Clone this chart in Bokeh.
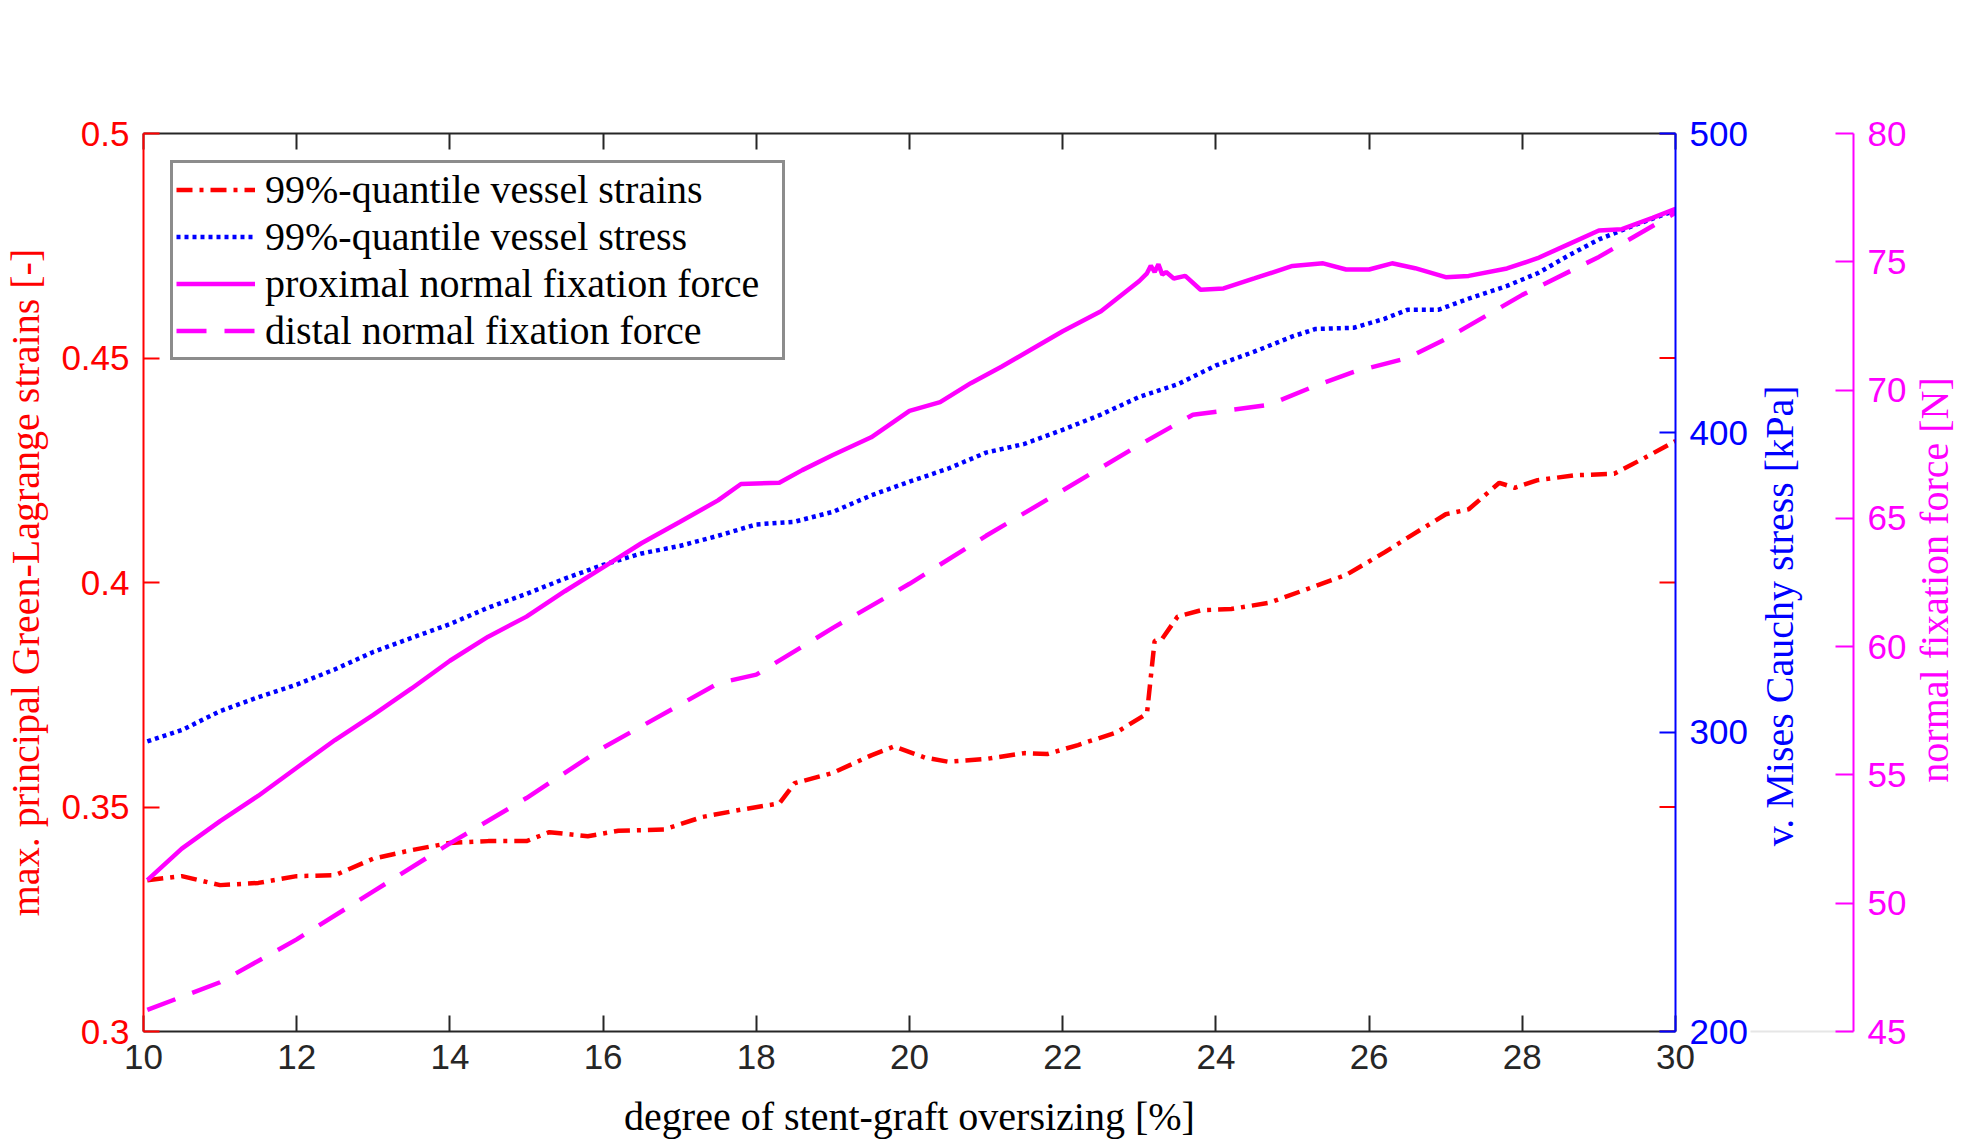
import math
from bokeh.plotting import figure
from bokeh.layouts import row
from bokeh.models import Range1d, LinearAxis, FixedTicker, Legend, LegendItem, Label
from bokeh.embed import file_html
from bokeh.resources import INLINE

# ---------------- data ----------------
strain_x = [10.05, 10.5, 11.0, 11.5, 12.0, 12.5, 13.0, 13.5, 14.0, 14.5,
            15.0, 15.3, 15.8, 16.2, 16.8, 17.3, 17.8, 18.3, 18.5, 19.0,
            19.5, 19.8, 20.2, 20.5, 21.0, 21.5, 21.8, 22.2, 22.7, 23.1,
            23.2, 23.3, 23.5, 23.8, 24.2, 24.7, 25.2, 25.7, 26.2, 26.6,
            27.0, 27.3, 27.7, 27.9, 28.2, 28.7, 29.2, 29.6, 30.0]
strain_y = [0.3337, 0.3346, 0.3326, 0.3331, 0.3346, 0.3348, 0.3385, 0.3404, 0.3420, 0.3424,
            0.3424, 0.3444, 0.3435, 0.3447, 0.3450, 0.3478, 0.3494, 0.3508, 0.3553, 0.3576,
            0.3615, 0.3635, 0.3610, 0.3601, 0.3607, 0.3620, 0.3618, 0.3638, 0.3666, 0.3708,
            0.3870, 0.3875, 0.3924, 0.3938, 0.3941, 0.3955, 0.3986, 0.4017, 0.4067, 0.4110,
            0.4152, 0.4163, 0.4222, 0.4211, 0.4228, 0.4239, 0.4242, 0.4278, 0.4315]

stress_x = [10.05, 10.5, 11.0, 11.5, 12.0, 12.5, 13.0, 13.5, 14.0, 14.5,
            15.0, 15.5, 16.0, 16.5, 17.0, 17.5, 18.0, 18.5, 19.0, 19.5,
            20.0, 20.5, 21.0, 21.5, 22.0, 22.5, 23.0, 23.5, 24.0, 24.5,
            25.0, 25.3, 25.8, 26.2, 26.5, 26.9, 27.3, 27.8, 28.2, 28.6,
            29.0, 29.5, 30.0]
stress_y = [296.9, 300.7, 307.0, 311.7, 315.9, 321.0, 326.8, 331.5, 336.1, 341.6,
            346.2, 351.3, 355.9, 359.7, 362.2, 365.6, 369.4, 370.3, 373.6, 379.1,
            383.7, 388.0, 393.4, 396.3, 401.0, 406.1, 412.0, 416.2, 422.5, 427.1,
            432.2, 434.7, 435.1, 438.1, 441.1, 441.1, 444.8, 449.1, 453.3, 459.2,
            464.6, 469.7, 474.3]

prox_x = [10.05, 10.5, 11.0, 11.5, 12.0, 12.5, 13.0, 13.5, 14.0, 14.5,
          15.0, 15.5, 16.0, 16.5, 17.0, 17.5, 17.8, 18.3, 18.6, 19.0,
          19.5, 20.0, 20.4, 20.8, 21.2, 21.6, 22.0, 22.5, 23.0, 23.1,
          23.15, 23.2, 23.25, 23.3, 23.35, 23.45, 23.6, 23.8, 24.1, 24.5,
          25.0, 25.4, 25.7, 26.0, 26.3, 26.6, 27.0, 27.3, 27.8, 28.2,
          28.6, 29.0, 29.3, 29.7, 30.0]
prox_y = [50.90, 52.13, 53.20, 54.19, 55.28, 56.36, 57.34, 58.37, 59.45, 60.39,
          61.17, 62.16, 63.09, 64.03, 64.86, 65.70, 66.34, 66.39, 66.88, 67.47,
          68.16, 69.19, 69.53, 70.27, 70.91, 71.60, 72.29, 73.07, 74.25, 74.55,
          74.85, 74.60, 74.90, 74.50, 74.60, 74.35, 74.45, 73.91, 73.96, 74.35,
          74.84, 74.94, 74.70, 74.70, 74.94, 74.75, 74.40, 74.45, 74.74, 75.14,
          75.68, 76.22, 76.27, 76.71, 77.06]

dist_x = [10.05, 11.0, 12.0, 13.0, 14.0, 15.0, 16.0, 17.0, 17.5, 18.0,
          19.0, 20.0, 21.0, 22.0, 23.0, 23.7, 24.2, 24.7, 25.3, 25.8,
          26.5, 27.0, 28.0, 29.0, 30.0]
dist_y = [45.84, 46.92, 48.59, 50.46, 52.33, 54.10, 56.06, 57.73, 58.57, 58.91,
          60.73, 62.45, 64.32, 66.09, 67.86, 69.04, 69.23, 69.43, 70.17, 70.71,
          71.25, 71.99, 73.71, 75.19, 76.91]

x_ticks = [10, 12, 14, 16, 18, 20, 22, 24, 26, 28, 30]
strain_ticks = [0.3, 0.35, 0.4, 0.45, 0.5]
strain_tick_labels = ["0.3", "0.35", "0.4", "0.45", "0.5"]
stress_ticks = [200, 300, 400, 500]
force_ticks = [45, 50, 55, 60, 65, 70, 75, 80]

series_labels = ["99%-quantile vessel strains", "99%-quantile vessel stress",
                 "proximal normal fixation force", "distal normal fixation force"]
x_title = "degree of stent-graft oversizing [%]"
strain_title = "max. principal Green-Lagrange strains [-]"
stress_title = "v. Mises Cauchy stress [kPa]"
force_title = "normal fixation force [N]"

# ---------------- styling ----------------
RED, BLUE, MAG, DARK = "#FF0000", "#0000FF", "#FF00FF", "#262626"
TICK_FONT, TITLE_FONT = "Liberation Sans", "Liberation Serif"
TICK_SIZE, TITLE_SIZE = "35px", "40px"

H = 1146
W_MAIN, W_SIDE, W_TITLE = 1750, 160, 68
TOP, BOTTOM = 133, 115
FORCE_MIN, FORCE_MAX = 45, 80

p = figure(width=W_MAIN, height=H,
           x_range=Range1d(10, 30), y_range=Range1d(0.3, 0.5),
           output_backend="svg", toolbar_location=None,
           min_border_left=141, min_border_right=74,
           min_border_top=TOP, min_border_bottom=BOTTOM)
p.grid.visible = False
p.outline_line_color = None
p.background_fill_color = "white"
p.border_fill_color = "white"
p.extra_y_ranges = {"stress": Range1d(200, 500),
                    "force": Range1d(FORCE_MIN, FORCE_MAX)}


def style_axis(ax, color, label_color, ticks, tick_len=16):
    ax.ticker = FixedTicker(ticks=ticks)
    ax.axis_line_color = color
    ax.axis_line_width = 2
    ax.major_tick_line_color = color
    ax.major_tick_line_width = 2
    ax.major_tick_in = tick_len
    ax.major_tick_out = 0
    ax.minor_tick_line_color = None
    ax.major_label_text_color = label_color
    ax.major_label_text_font = TICK_FONT
    ax.major_label_text_font_size = TICK_SIZE
    ax.axis_label_text_font = TITLE_FONT
    ax.axis_label_text_font_size = TITLE_SIZE
    ax.axis_label_text_font_style = "normal"


# bottom x axis
xa = p.xaxis[0]
style_axis(xa, DARK, DARK, x_ticks)
xa.axis_label = x_title
xa.axis_label_text_color = "#000000"
xa.major_label_standoff = 13
xa.axis_label_standoff = 22

# left strain axis
ya = p.yaxis[0]
style_axis(ya, RED, RED, strain_ticks)
ya.major_label_overrides = dict(zip(strain_ticks, strain_tick_labels))
ya.axis_label = strain_title
ya.axis_label_text_color = RED
ya.major_label_standoff = 14
ya.axis_label_standoff = 10

# top axis (ticks only)
top = LinearAxis()
style_axis(top, DARK, DARK, x_ticks)
top.major_label_text_alpha = 0
top.major_label_text_font_size = "1px"
p.add_layout(top, "above")

# right stress axis (ticks + labels)
sa = LinearAxis(y_range_name="stress")
style_axis(sa, BLUE, BLUE, stress_ticks)
sa.major_label_standoff = 14
p.add_layout(sa, "right")

# mirrored strain ticks on the right frame edge
p.scatter(x=[p.x_range.end] * len(strain_ticks), y=strain_ticks, marker="dash",
          size=32, line_color=RED, line_width=2)

# ---------------- series ----------------
r_strain = p.line(strain_x, strain_y, line_color=RED, line_width=4.5,
                  line_dash="16 7 4 7")
r_stress = p.line(stress_x, stress_y, y_range_name="stress", line_color=BLUE,
                  line_width=4.5, line_dash="4 4")
r_prox = p.line(prox_x, prox_y, y_range_name="force", line_color=MAG,
                line_width=4.5)
r_dist = p.line(dist_x, dist_y, y_range_name="force", line_color=MAG,
                line_width=4.5, line_dash="30 18")

legend = Legend(items=[LegendItem(label=lab, renderers=[r]) for lab, r in
                       zip(series_labels, [r_strain, r_stress, r_prox, r_dist])],
                location="top_left")
legend.margin = 27
legend.padding = 3
legend.spacing = 0
legend.glyph_width = 79
legend.glyph_height = 39
legend.label_height = 39
legend.label_width = 514
legend.label_standoff = 10
legend.label_text_font = TITLE_FONT
legend.label_text_font_size = TITLE_SIZE
legend.label_text_color = "#000000"
legend.border_line_color = "#1a1a1a"
legend.border_line_width = 3
legend.background_fill_color = "white"
legend.background_fill_alpha = 1
p.add_layout(legend)


def strip(width, border_right):
    f = figure(width=width, height=H, x_range=Range1d(0, width - border_right),
               y_range=Range1d(FORCE_MIN, FORCE_MAX),
               output_backend="svg", toolbar_location=None,
               x_axis_location=None, y_axis_location=None,
               min_border_left=0, min_border_right=border_right,
               min_border_top=TOP, min_border_bottom=BOTTOM)
    f.outline_line_color = None
    f.background_fill_color = "white"
    f.border_fill_color = "white"
    return f


def hide_grids(f):
    f.grid.visible = False
    f.xgrid.visible = False
    f.ygrid.visible = False


# ---------------- strip with the stress title and the force axis ----------------
side = strip(W_SIDE, 57)

fa = LinearAxis()
style_axis(fa, MAG, MAG, force_ticks, tick_len=18)
fa.major_label_standoff = 14
side.add_layout(fa, "right")

base = LinearAxis(ticker=FixedTicker(ticks=[]), axis_line_color="#e6e6e6",
                  axis_line_width=2, major_tick_line_color=None,
                  minor_tick_line_color=None, major_label_standoff=0)
side.add_layout(base, "below")
hide_grids(side)

side.add_layout(Label(text=stress_title, x=29, y=61.2,
                      angle=math.pi / 2, text_align="center", text_baseline="middle",
                      text_font=TITLE_FONT, text_font_size=TITLE_SIZE, text_color=BLUE))

# ---------------- strip with the force title ----------------
ttl = strip(W_TITLE, 0)
hide_grids(ttl)
ttl.add_layout(Label(text=force_title, x=24, y=62.6,
                     angle=math.pi / 2, text_align="center", text_baseline="middle",
                     text_font=TITLE_FONT, text_font_size=TITLE_SIZE, text_color=MAG))

layout = row(p, side, ttl, spacing=0)
open("out.html", "w").write(file_html(layout, INLINE))
